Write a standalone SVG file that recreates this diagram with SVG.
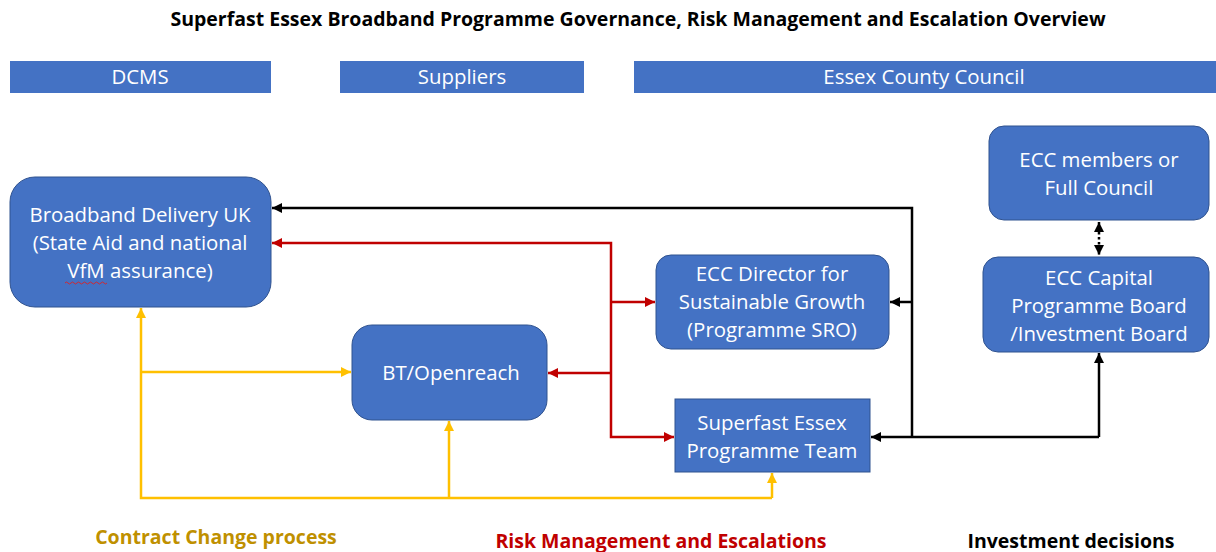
<svg xmlns="http://www.w3.org/2000/svg" width="1216" height="552" viewBox="0 0 1216 552">
<style>
.box{fill:#4472C4;stroke:#2F528F;stroke-width:1}
.bar{fill:#4472C4}
.t{font-family:"Open Sans","Noto Sans",sans-serif;font-size:20.4px;fill:#fff;text-anchor:middle}
.title{font-family:"Open Sans","Noto Sans",sans-serif;font-size:19.5px;font-weight:bold;fill:#000;text-anchor:middle}
.lbl{font-family:"Open Sans","Noto Sans",sans-serif;font-size:19.5px;font-weight:bold;text-anchor:middle}
.k{fill:none;stroke:#000;stroke-width:2.5}
.r{fill:none;stroke:#C00000;stroke-width:2.5}
.y{fill:none;stroke:#FFC000;stroke-width:2.5}
</style>
<defs>
<marker id="ak" viewBox="0 0 10 10" refX="10" refY="5" markerWidth="4" markerHeight="4" orient="auto" markerUnits="strokeWidth"><path d="M0,0L10,5L0,10z" fill="#000"/></marker>
<marker id="akS" viewBox="0 0 10 10" refX="10" refY="5" markerWidth="4" markerHeight="4" orient="auto-start-reverse" markerUnits="strokeWidth"><path d="M0,0L10,5L0,10z" fill="#000"/></marker>
<marker id="ar" viewBox="0 0 10 10" refX="10" refY="5" markerWidth="4" markerHeight="4" orient="auto" markerUnits="strokeWidth"><path d="M0,0L10,5L0,10z" fill="#C00000"/></marker>
<marker id="ay" viewBox="0 0 10 10" refX="10" refY="5" markerWidth="4" markerHeight="4" orient="auto" markerUnits="strokeWidth"><path d="M0,0L10,5L0,10z" fill="#FFC000"/></marker>
</defs>
<rect width="1216" height="552" fill="#fff"/>
<text class="title" x="638" y="26">Superfast Essex Broadband Programme Governance, Risk Management and Escalation Overview</text>

<g id="hdr-dcms"><rect class="bar" x="10" y="61" width="261" height="32"/><text class="t" x="140" y="84">DCMS</text></g>
<g id="hdr-suppliers"><rect class="bar" x="340" y="61" width="244" height="32"/><text class="t" x="462" y="84">Suppliers</text></g>
<g id="hdr-ecc"><rect class="bar" x="634" y="61" width="582" height="32"/><text class="t" x="924" y="84">Essex County Council</text></g>

<g id="connectors">
<!-- black -->
<polyline class="k" points="912,437 912,208 272,208" marker-end="url(#ak)"/>
<line class="k" x1="912" y1="302" x2="890" y2="302" marker-end="url(#ak)"/>
<line class="k" x1="1099" y1="437" x2="871" y2="437" marker-end="url(#ak)"/>
<line class="k" x1="1099" y1="437" x2="1099" y2="353" marker-end="url(#ak)"/>
<line x1="1099" y1="222" x2="1099" y2="255" stroke="#000" stroke-width="2.5" stroke-dasharray="2.5,2.5" marker-start="url(#akS)" marker-end="url(#ak)"/>
<!-- red -->
<polyline class="r" points="611,302 611,243 272,243" marker-end="url(#ar)"/>
<line class="r" x1="611" y1="302" x2="655" y2="302" marker-end="url(#ar)"/>
<polyline class="r" points="611,302 611,437 674,437" marker-end="url(#ar)"/>
<line class="r" x1="611" y1="373" x2="548" y2="373" marker-end="url(#ar)"/>
<!-- yellow -->
<polyline class="y" points="772,498 141,498 141,308" marker-end="url(#ay)"/>
<line class="y" x1="141" y1="372" x2="351" y2="372" marker-end="url(#ay)"/>
<line class="y" x1="449" y1="498" x2="449" y2="421" marker-end="url(#ay)"/>
<line class="y" x1="772" y1="498" x2="772" y2="473" marker-end="url(#ay)"/>
</g>

<g id="bduk"><rect class="box" x="10" y="177" width="261" height="130" rx="25"/>
<text class="t" x="140" y="222">Broadband Delivery UK</text>
<text class="t" x="140" y="250">(State Aid and national</text>
<text class="t" x="140" y="278">VfM assurance)</text>
<path d="M65,283 q1.5,-2 3,0 t3,0 t3,0 t3,0 t3,0 t3,0 t3,0 t3,0 t3,0 t3,0 t3,0 t3,0 t3,0 t3,0" fill="none" stroke="#E02020" stroke-width="0.9"/>
</g>
<g id="bt"><rect class="box" x="352" y="325" width="195" height="95" rx="20"/>
<text class="t" x="451" y="380">BT/Openreach</text></g>
<g id="director"><rect class="box" x="656" y="255" width="233" height="94" rx="15"/>
<text class="t" x="772" y="281">ECC Director for</text>
<text class="t" x="772" y="309">Sustainable Growth</text>
<text class="t" x="772" y="337">(Programme SRO)</text></g>
<g id="team"><rect class="box" x="675" y="399" width="195" height="73"/>
<text class="t" x="772" y="430">Superfast Essex</text>
<text class="t" x="772" y="458">Programme Team</text></g>
<g id="members"><rect class="box" x="989" y="126" width="220" height="94" rx="15"/>
<text class="t" x="1099" y="167">ECC members or</text>
<text class="t" x="1099" y="195">Full Council</text></g>
<g id="capital"><rect class="box" x="983" y="257" width="226" height="95" rx="15"/>
<text class="t" x="1099" y="285">ECC Capital</text>
<text class="t" x="1099" y="313">Programme Board</text>
<text class="t" x="1099" y="341">/Investment Board</text></g>

<text class="lbl" x="216" y="544" fill="#BF9000">Contract Change process</text>
<text class="lbl" x="661" y="548" fill="#C00000">Risk Management and Escalations</text>
<text class="lbl" x="1071" y="548" fill="#000">Investment decisions</text>
</svg>
